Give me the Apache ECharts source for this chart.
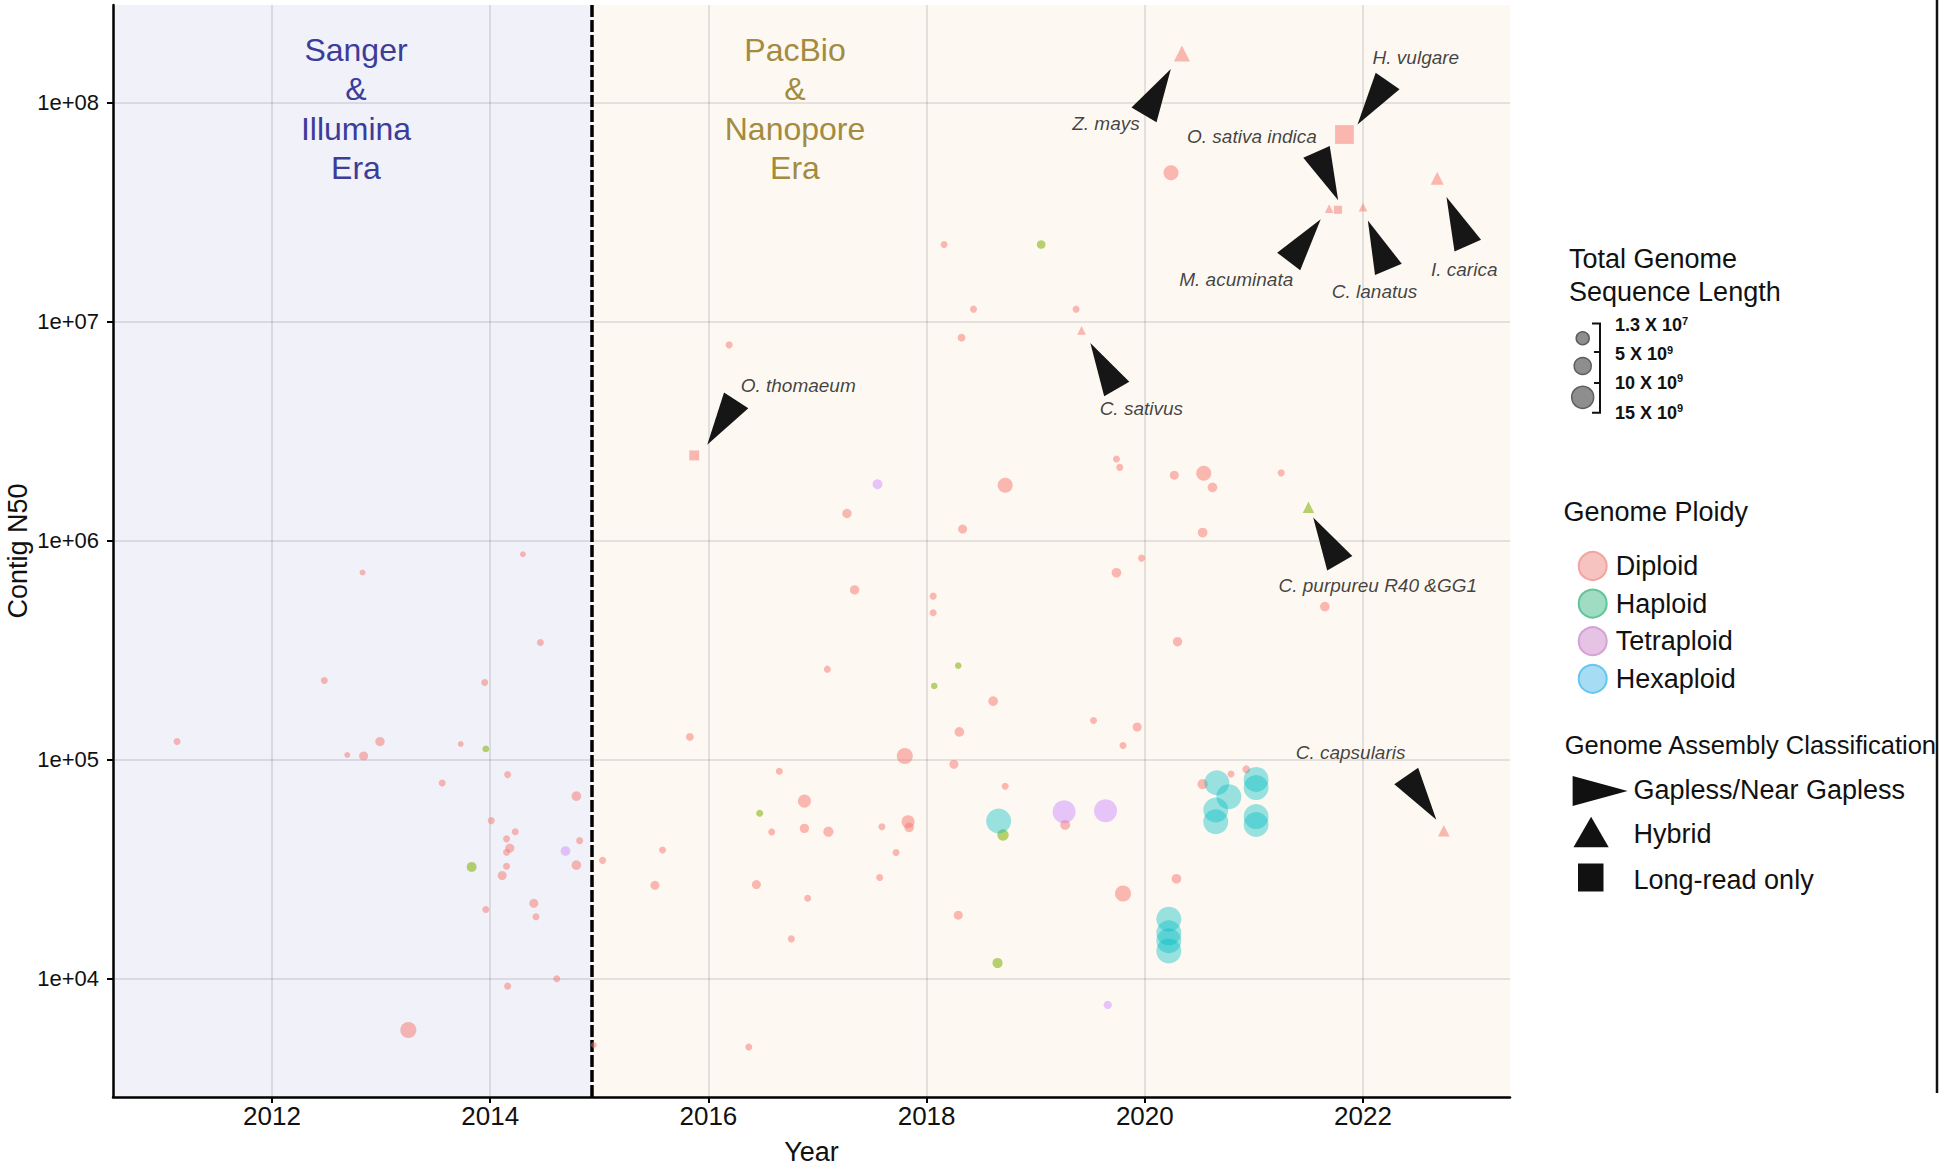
<!DOCTYPE html>
<html>
<head>
<meta charset="utf-8">
<script src="https://cdn.jsdelivr.net/npm/echarts@6/dist/echarts.min.js"></script>
<style>
html,body{margin:0;padding:0;background:#ffffff;}
#chart{width:1940px;height:1170px;}
</style>
</head>
<body>
<div id="chart"></div>
<script>
// ================= DATA =================
const xTicks = [2012, 2014, 2016, 2018, 2020, 2022];
const yTicks = [1e4, 1e5, 1e6, 1e7, 1e8];
const xRange = [2010.543, 2023.347];
const yRange = [2884, 2.79e8];
const eraBoundary = 2014.93;
const ploidyNames = ['Diploid', 'Haploid', 'Tetraploid', 'Hexaploid'];
const assemblyNames = ['Gapless/Near Gapless', 'Hybrid', 'Long-read only'];
const sizeLegendLabels = [['1.3 X 10', '7'], ['5 X 10', '9'], ['10 X 10', '9'], ['15 X 10', '9']];

// record: [year, contig N50, genome length (Gb), assembly (0 other, 1 hybrid, 2 long-read only), species]
const diploid = [
  [2011.13, 1.21e5, 0.15, 0], [2012.48, 2.30e5, 0.15, 0], [2012.83, 7.16e5, 0.03, 0],
  [2014.30, 8.67e5, 0.03, 0], [2014.46, 3.43e5, 0.15, 0], [2013.95, 2.25e5, 0.15, 0],
  [2012.99, 1.21e5, 0.7, 0], [2012.69, 1.05e5, 0.03, 0], [2012.84, 1.04e5, 0.6, 0],
  [2013.73, 1.18e5, 0.03, 0], [2013.56, 7.82e4, 0.15, 0], [2014.16, 8.55e4, 0.15, 0],
  [2014.79, 6.82e4, 0.8, 0], [2014.01, 5.27e4, 0.15, 0], [2014.23, 4.69e4, 0.15, 0],
  [2014.15, 4.35e4, 0.15, 0], [2014.82, 4.27e4, 0.15, 0], [2014.18, 3.95e4, 0.6, 0],
  [2014.15, 3.78e4, 0.15, 0], [2014.79, 3.30e4, 0.8, 0], [2014.15, 3.26e4, 0.15, 0],
  [2014.11, 2.96e4, 0.6, 0], [2014.40, 2.21e4, 0.6, 0], [2014.42, 1.92e4, 0.15, 0],
  [2013.96, 2.07e4, 0.15, 0], [2014.61, 1.00e4, 0.15, 0], [2014.16, 9.25e3, 0.15, 0],
  [2013.25, 5.83e3, 4.5, 0], [2014.95, 4.98e3, 0.03, 0],
  [2015.03, 3.47e4, 0.15, 0], [2018.16, 2.25e7, 0.15, 0], [2018.43, 1.14e7, 0.15, 0],
  [2018.32, 8.45e6, 0.3, 0], [2016.19, 7.83e6, 0.15, 0], [2018.72, 1.79e6, 3.7, 0],
  [2017.27, 1.33e6, 0.7, 0], [2018.33, 1.13e6, 0.6, 0], [2017.34, 5.96e5, 0.7, 0],
  [2018.06, 5.58e5, 0.15, 0], [2018.06, 4.69e5, 0.15, 0], [2019.37, 1.14e7, 0.15, 0],
  [2019.74, 2.36e6, 0.15, 0], [2019.77, 2.16e6, 0.15, 0], [2020.27, 1.99e6, 0.6, 0],
  [2020.54, 2.03e6, 3.7, 0], [2020.62, 1.75e6, 0.8, 0], [2021.25, 2.04e6, 0.15, 0],
  [2020.53, 1.09e6, 0.8, 0], [2019.97, 8.32e5, 0.15, 0], [2019.74, 7.14e5, 0.8, 0],
  [2021.65, 5.00e5, 0.8, 0], [2020.30, 3.46e5, 0.7, 0], [2020.24, 4.78e7, 3.7, 0],
  [2017.09, 2.59e5, 0.15, 0], [2018.61, 1.85e5, 0.8, 0], [2018.30, 1.34e5, 0.8, 0],
  [2015.83, 1.27e5, 0.3, 0], [2017.80, 1.04e5, 4.5, 0], [2018.25, 9.53e4, 0.6, 0],
  [2016.65, 8.85e4, 0.15, 0], [2018.72, 7.57e4, 0.15, 0], [2016.88, 6.47e4, 2.4, 0],
  [2016.58, 4.68e4, 0.15, 0], [2016.88, 4.86e4, 0.7, 0], [2017.10, 4.69e4, 1.0, 0],
  [2017.59, 4.94e4, 0.15, 0], [2017.83, 5.21e4, 2.4, 0], [2017.84, 4.91e4, 0.8, 0],
  [2017.72, 3.77e4, 0.15, 0], [2015.58, 3.87e4, 0.15, 0], [2015.51, 2.67e4, 0.6, 0],
  [2016.44, 2.69e4, 0.6, 0], [2017.57, 2.90e4, 0.15, 0], [2016.91, 2.33e4, 0.15, 0],
  [2018.29, 1.95e4, 0.6, 0], [2016.76, 1.52e4, 0.15, 0], [2016.37, 4.88e3, 0.15, 0],
  [2019.53, 1.51e5, 0.15, 0], [2019.93, 1.41e5, 0.6, 0], [2019.80, 1.16e5, 0.15, 0],
  [2019.27, 5.04e4, 0.9, 0], [2020.53, 7.73e4, 1.0, 0], [2020.79, 8.61e4, 0.15, 0],
  [2020.93, 9.04e4, 0.3, 0], [2020.29, 2.86e4, 0.8, 0], [2019.80, 2.45e4, 4.5, 0],
  [2020.34, 1.675e8, 4.5, 1, 'Z. mays'],
  [2021.83, 7.15e7, 7.0, 2, 'H. vulgare'],
  [2021.77, 3.24e7, 0.35, 2, 'O. sativa indica'],
  [2021.69, 3.28e7, 0.5, 1, 'M. acuminata'],
  [2022.00, 3.33e7, 0.5, 1, 'C. lanatus'],
  [2022.68, 4.51e7, 2.4, 1, 'I. carica'],
  [2019.42, 9.12e6, 0.5, 1, 'C. sativus'],
  [2015.87, 2.45e6, 0.9, 2, 'O. thomaeum'],
  [2022.74, 4.74e4, 1.6, 1, 'C. capsularis']
];
const haploid = [
  [2013.96, 1.12e5, 0.12, 0], [2013.83, 3.24e4, 0.9, 0], [2019.05, 2.25e7, 0.5, 0],
  [2018.29, 2.69e5, 0.1, 0], [2018.07, 2.17e5, 0.1, 0], [2016.47, 5.69e4, 0.15, 0],
  [2018.70, 4.53e4, 1.5, 0], [2018.65, 1.18e4, 1.0, 0],
  [2021.50, 1.42e6, 1.6, 1, 'C. purpureu R40 &GG1']
];
const tetraploid = [
  [2014.69, 3.83e4, 0.8, 0], [2017.55, 1.81e6, 0.9, 0], [2019.26, 5.79e4, 12, 0],
  [2019.64, 5.85e4, 12, 0], [2019.66, 7.59e3, 0.4, 0]
];
const hexaploid = [
  [2018.66, 5.25e4, 14.8, 0], [2020.66, 7.85e4, 14.8, 0], [2020.77, 6.78e4, 14.8, 0],
  [2020.65, 5.89e4, 14.8, 0], [2020.65, 5.21e4, 14.8, 0], [2021.02, 8.13e4, 14.8, 0],
  [2021.02, 7.46e4, 14.8, 0], [2021.02, 5.50e4, 14.8, 0], [2021.02, 5.06e4, 14.8, 0],
  [2020.22, 1.87e4, 14.8, 0], [2020.22, 1.62e4, 14.8, 0], [2020.22, 1.49e4, 14.8, 0],
  [2020.22, 1.34e4, 14.8, 0]
];

// ================= STYLE =================
const FONT = '"Liberation Sans", Arial, Helvetica, sans-serif';
const plotColors = ['#F8766D', '#7CAE00', '#C77CFF', '#00BFC4'];
const plotOpacity = [0.5, 0.55, 0.42, 0.4];
const legendFill = ['#f7c3c1', '#9fdcc2', '#e6c3e4', '#a6dcf4'];
const legendBorder = ['#f2a4a1', '#62c49a', '#d4a2d4', '#66c6f0'];
const assemblySymbols = ['circle', 'triangle', 'rect'];
// arrow annotation geometry (screen px, relative to the point)
const arrowStyle = {
  'Z. mays':              {rot: -30.4, off: [-24.5, 38.4], lab: [-76, 70.4]},
  'H. vulgare':           {rot: 145.4, off: [28.1, -31.8], lab: [71.4, -76.7]},
  'O. sativa indica':     {rot: -155.9, off: [-10.6, -33.7], lab: [-86, -73.7]},
  'M. acuminata':         {rot: -37.2, off: [-24.5, 31.7], lab: [-93, 70.4]},
  'C. lanatus':           {rot: 22.8, off: [15.1, 37.8], lab: [11.5, 84.4]},
  'I. carica':            {rot: 23.7, off: [19.9, 43], lab: [27, 90.8]},
  'C. sativus':           {rot: 29.9, off: [22, 35.7], lab: [59.8, 77.8]},
  'O. thomaeum':          {rot: 146.9, off: [27.5, -32.9], lab: [104, -70.3]},
  'C. purpureu R40 &GG1': {rot: 30.1, off: [18, 33], lab: [69.3, 77.7]},
  'C. capsularis':        {rot: -145.4, off: [-22.5, -32.8], lab: [-93.2, -78]}
};

const sizeOf = g => 5 + 5.2 * Math.sqrt(g);
const ploidyData = [diploid, haploid, tetraploid, hexaploid];
const annotated = [].concat(...ploidyData.map(arr => arr.filter(r => r[4])));

const chart = echarts.init(document.getElementById('chart'), null, {renderer: 'svg', width: 1940, height: 1170});

const splitLineStyle = {show: true, lineStyle: {color: 'rgba(70,70,95,0.18)', width: 1.6}};

const ploidySeries = ploidyNames.map((name, i) => ({
  name: name,
  type: 'scatter',
  z: 2,
  silent: true,
  data: ploidyData[i].map(r => [r[0], r[1], r[2], r[3]]),
  symbol: v => assemblySymbols[v[3]],
  symbolSize: v => sizeOf(v[2]),
  itemStyle: {color: plotColors[i], opacity: plotOpacity[i]},
  emphasis: {disabled: true}
}));

// era background + boundary line attached to the first series
ploidySeries[0].markArea = {
  silent: true,
  z: 0,
  data: [
    [{xAxis: xRange[0], itemStyle: {color: '#f1f1f9'}}, {xAxis: eraBoundary}],
    [{xAxis: eraBoundary, itemStyle: {color: '#fdf9f2'}}, {xAxis: xRange[1]}]
  ]
};
ploidySeries[0].markLine = {
  silent: true,
  z: 1.5,
  symbol: ['none', 'none'],
  label: {show: false},
  lineStyle: {color: '#000', width: 3.5, type: [12, 3]},
  data: [{xAxis: eraBoundary}]
};

const arrowSeries = {
  name: assemblyNames[0],
  type: 'scatter',
  z: 3,
  silent: true,
  symbol: 'triangle',
  symbolSize: [29, 53],
  itemStyle: {color: '#161616', opacity: 1},
  data: annotated.map(r => ({
    value: [r[0], r[1]],
    symbolRotate: arrowStyle[r[4]].rot,
    symbolOffset: arrowStyle[r[4]].off
  }))
};

const labelSeries = {
  name: 'labels',
  type: 'scatter',
  z: 4,
  silent: true,
  symbol: 'circle',
  symbolSize: 1,
  itemStyle: {color: 'rgba(0,0,0,0)'},
  label: {
    show: true, position: 'inside', formatter: p => p.name,
    fontSize: 19, fontStyle: 'italic', color: '#111', fontFamily: FONT,
    align: 'center', verticalAlign: 'middle'
  },
  data: annotated.map(r => ({
    name: r[4],
    value: [r[0], r[1]],
    label: {offset: arrowStyle[r[4]].lab}
  }))
};

// ---------- custom legend pieces (graphics) ----------
const graphics = [];
graphics.push({
  type: 'text', x: 356, y: 30, z: 10, silent: true,
  style: {text: 'Sanger\n&\nIllumina\nEra', fill: '#3c3c99', fontSize: 32, fontFamily: FONT,
    align: 'center', verticalAlign: 'top', lineHeight: 39.5}
});
graphics.push({
  type: 'text', x: 795, y: 30, z: 10, silent: true,
  style: {text: 'PacBio\n&\nNanopore\nEra', fill: '#a38b3f', fontSize: 32, fontFamily: FONT,
    align: 'center', verticalAlign: 'top', lineHeight: 39.5}
});
// size legend
graphics.push({
  type: 'text', x: 1569, y: 242, silent: true,
  style: {text: 'Total Genome\nSequence Length', fill: '#111', fontSize: 27, fontFamily: FONT,
    align: 'left', verticalAlign: 'top', lineHeight: 33}
});
[[338.3, 6.5], [366, 8.5], [397.3, 11]].forEach(c => graphics.push({
  type: 'circle', silent: true, shape: {cx: 1582.7, cy: c[0], r: c[1]},
  style: {fill: '#8e8e8e', stroke: '#5e5e5e', lineWidth: 1.5}
}));
graphics.push({
  type: 'polyline', silent: true,
  shape: {points: [[1592, 323.5], [1600, 323.5], [1600, 412.7], [1592, 412.7]]},
  style: {stroke: '#111', lineWidth: 2, fill: null}
});
[352, 383].forEach(y => graphics.push({
  type: 'line', silent: true, shape: {x1: 1594, y1: y, x2: 1600, y2: y},
  style: {stroke: '#111', lineWidth: 2}
}));
[325, 354, 382.7, 412.7].forEach((y, i) => graphics.push({
  type: 'text', x: 1615, y: y, silent: true,
  style: {
    text: '{a|' + sizeLegendLabels[i][0] + '}{s|' + sizeLegendLabels[i][1] + '}',
    align: 'left', verticalAlign: 'middle',
    rich: {
      a: {fontSize: 18, fontWeight: 'bold', fill: '#111', fontFamily: FONT, lineHeight: 20},
      s: {fontSize: 11, fontWeight: 'bold', fill: '#111', fontFamily: FONT, verticalAlign: 'top', lineHeight: 12}
    }
  }
}));
// ploidy legend title
graphics.push({
  type: 'text', x: 1563.5, y: 512, silent: true,
  style: {text: 'Genome Ploidy', fill: '#111', fontSize: 27, fontFamily: FONT, align: 'left', verticalAlign: 'middle'}
});
// assembly legend
graphics.push({
  type: 'text', x: 1564.7, y: 745, silent: true,
  style: {text: 'Genome Assembly Classification', fill: '#111', fontSize: 25.5, fontFamily: FONT, align: 'left', verticalAlign: 'middle'}
});
graphics.push({
  type: 'polygon', silent: true,
  shape: {points: [[1572.6, 776], [1627.6, 791], [1572.6, 806]]},
  style: {fill: '#111'}
});
graphics.push({
  type: 'polygon', silent: true,
  shape: {points: [[1591.1, 816.8], [1608.7, 847.2], [1573.5, 847.2]]},
  style: {fill: '#111'}
});
graphics.push({
  type: 'rect', silent: true, shape: {x: 1578, y: 863.5, width: 25.5, height: 28},
  style: {fill: '#111'}
});
[[790.4, assemblyNames[0]], [833.5, assemblyNames[1]], [879.8, assemblyNames[2]]].forEach(t => graphics.push({
  type: 'text', x: 1633.5, y: t[0], silent: true,
  style: {text: t[1], fill: '#111', fontSize: 27, fontFamily: FONT, align: 'left', verticalAlign: 'middle'}
}));
// right border
graphics.push({
  type: 'line', silent: true, shape: {x1: 1937, y1: 0, x2: 1937, y2: 1093},
  style: {stroke: '#111', lineWidth: 2.5}
});

const option = {
  animation: false,
  backgroundColor: '#ffffff',
  textStyle: {fontFamily: FONT},
  grid: {left: 113, top: 5, width: 1397, height: 1092, containLabel: false, outerBoundsMode: 'none'},
  xAxis: {
    type: 'value', min: xRange[0], max: xRange[1], z: 1,
    name: 'Year', nameLocation: 'middle', nameGap: 41, nameMoveOverlap: false,
    nameTextStyle: {fontSize: 27, color: '#111', fontFamily: FONT},
    axisLine: {show: true, onZero: false, lineStyle: {color: '#000', width: 2.5}},
    axisTick: {show: true, customValues: xTicks, length: 6, lineStyle: {color: '#000', width: 2}},
    axisLabel: {customValues: xTicks, fontSize: 26, color: '#111', margin: 6, formatter: v => String(v)},
    splitLine: splitLineStyle
  },
  yAxis: {
    type: 'log', logBase: 10, min: yRange[0], max: yRange[1], z: 1,
    name: 'Contig N50', nameLocation: 'middle', nameGap: 82, nameRotate: 90, nameMoveOverlap: false,
    nameTextStyle: {fontSize: 27, color: '#111', fontFamily: FONT},
    axisLine: {show: true, onZero: false, lineStyle: {color: '#000', width: 2.5}},
    axisTick: {show: true, customValues: yTicks, length: 6, lineStyle: {color: '#000', width: 2}},
    axisLabel: {customValues: yTicks, fontSize: 22, color: '#111', margin: 14,
      formatter: v => '1e+0' + Math.round(Math.log10(v))},
    splitLine: splitLineStyle
  },
  legend: {
    orient: 'vertical', left: 1572.7, top: 546,
    itemWidth: 28, itemHeight: 28, itemGap: 7.6,
    selectedMode: false, icon: 'circle',
    textStyle: {fontSize: 27, color: '#111', fontFamily: FONT, padding: [0, 0, 0, 4]},
    data: ploidyNames.map((n, i) => ({
      name: n, icon: 'circle',
      itemStyle: {color: legendFill[i], borderColor: legendBorder[i], borderWidth: 2, opacity: 1}
    }))
  },
  graphic: graphics,
  series: [...ploidySeries, arrowSeries, labelSeries]
};

chart.setOption(option);
</script>
</body>
</html>
